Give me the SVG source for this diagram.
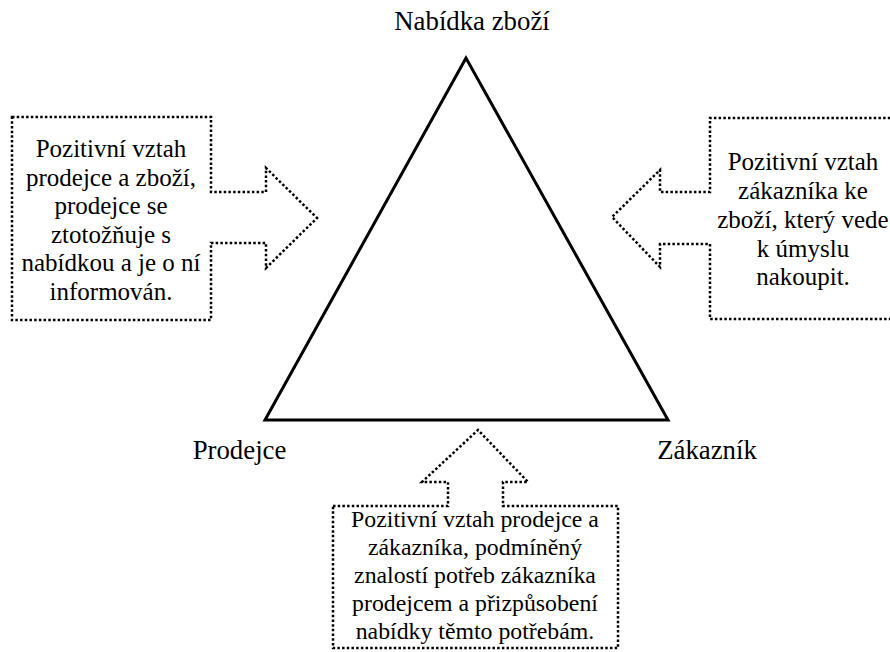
<svg xmlns="http://www.w3.org/2000/svg" width="890" height="652" viewBox="0 0 890 652">
  <style>
    text { font-family: "Liberation Serif", "DejaVu Serif", serif; fill: #000; text-anchor: middle; }
    .label { font-size: 26.8px; }
    .note { font-size: 25px; }
    .note-s { font-size: 23.8px; }
    .callout { fill: none; stroke: #000; stroke-width: 2.5; stroke-dasharray: 2.5 2.2; }
    .tri { fill: none; stroke: #000; stroke-width: 3; stroke-linejoin: miter; }
  </style>
  <rect width="890" height="652" fill="#fff"/>

  <!-- central triangle -->
  <g id="triangle">
    <polygon class="tri" points="466,58 265,420 668,420"/>
  </g>

  <!-- vertex labels -->
  <g id="vertex-offer">
    <text class="label" x="472" y="30">Nabídka zboží</text>
  </g>
  <g id="vertex-seller">
    <text class="label" x="239.5" y="459">Prodejce</text>
  </g>
  <g id="vertex-customer">
    <text class="label" x="707" y="459">Zákazník</text>
  </g>

  <!-- callouts pointing at the triangle -->
  <g id="connectors">
    <path class="callout" d="M12,117 H211 V192 H266 V168 L317,218 L266,268 V243 H211 V320 H12 Z"/>
    <path class="callout" d="M895,118 H710 V192 H660 V170 L612,217 L660,267 V244 H710 V319 H895"/>
    <path class="callout" d="M333,506 H448 V482 H422 L478,430 L528,482 H503 V506 H618 V648 H333 Z"/>
  </g>

  <g id="note-seller">
    <text class="note" x="111" y="157">Pozitivní vztah</text>
    <text class="note" x="111" y="185.5">prodejce a zboží,</text>
    <text class="note" x="111" y="214">prodejce se</text>
    <text class="note" x="111" y="242.5">ztotožňuje s</text>
    <text class="note" x="111" y="271">nabídkou a je o ní</text>
    <text class="note" x="111" y="299.5">informován.</text>
  </g>

  <g id="note-customer">
    <text class="note" x="803" y="170">Pozitivní vztah</text>
    <text class="note" x="803" y="199">zákazníka ke</text>
    <text class="note" x="803" y="228">zboží, který vede</text>
    <text class="note" x="803" y="256.5">k úmyslu</text>
    <text class="note" x="803" y="285">nakoupit.</text>
  </g>

  <g id="note-relation">
    <text class="note-s" x="475" y="527">Pozitivní vztah prodejce a</text>
    <text class="note-s" x="475" y="555">zákazníka, podmíněný</text>
    <text class="note-s" x="475" y="583">znalostí potřeb zákazníka</text>
    <text class="note-s" x="475" y="611">prodejcem a přizpůsobení</text>
    <text class="note-s" x="475" y="639">nabídky těmto potřebám.</text>
  </g>
</svg>
